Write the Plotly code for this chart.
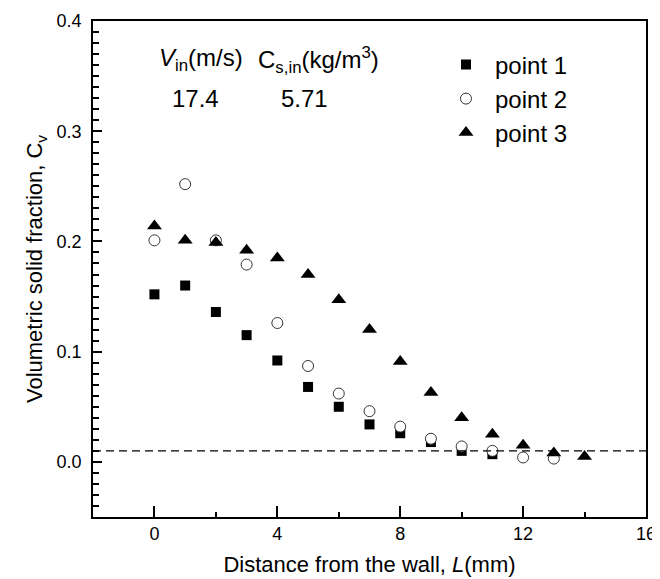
import plotly.graph_objects as go

# ---- data ----
x1 = [0, 1, 2, 3, 4, 5, 6, 7, 8, 9, 10, 11]
y1 = [0.152, 0.160, 0.136, 0.115, 0.092, 0.068, 0.050, 0.034, 0.026, 0.018, 0.010, 0.007]

x2 = [0, 1, 2, 3, 4, 5, 6, 7, 8, 9, 10, 11, 12, 13]
y2 = [0.201, 0.252, 0.201, 0.179, 0.126, 0.087, 0.062, 0.046, 0.032, 0.021, 0.014, 0.010, 0.004, 0.003]

x3 = [0, 1, 2, 3, 4, 5, 6, 7, 8, 9, 10, 11, 12, 13, 14]
y3 = [0.214, 0.201, 0.199, 0.192, 0.185, 0.170, 0.147, 0.120, 0.091, 0.063, 0.040, 0.025, 0.015, 0.008, 0.005]

threshold = 0.01
series_names = ["point 1", "point 2", "point 3"]
x_ticks = [0, 4, 8, 12, 16]
y_ticks = [0.0, 0.1, 0.2, 0.3, 0.4]

FONT = "Liberation Sans, Arial, sans-serif"

# screen-pixel plot box (page has an 8px body margin)
PL, PR, PT, PB = 93, 646, 21, 517
OFF = 8


def px(xs):
    return (xs - PL) / (PR - PL)


def py(ys):
    return (PB - ys) / (PB - PT)


fig = go.Figure()

fig.add_hline(y=threshold, line=dict(color="black", width=1.3, dash="8px,5px"))

fig.add_trace(go.Scatter(x=x1, y=y1, mode="markers", name=series_names[0],
                         marker=dict(symbol="square", size=10, color="black"),
                         legend="legend", showlegend=True))
fig.add_trace(go.Scatter(x=x2, y=y2, mode="markers", name=series_names[1],
                         marker=dict(symbol="circle", size=11, color="white",
                                     line=dict(color="#333333", width=1)),
                         legend="legend2", showlegend=True))
fig.add_trace(go.Scatter(x=x3, y=y3, mode="markers", name=series_names[2],
                         marker=dict(symbol="triangle-up", size=13, color="black"),
                         legend="legend3", showlegend=True))

leg_common = dict(xanchor="left", yanchor="middle", bgcolor="rgba(0,0,0,0)",
                  itemwidth=48,
                  font=dict(family=FONT, size=24, color="black"))

fig.update_layout(
    width=660, height=579,
    margin=dict(l=PL - OFF, r=660 - PR + OFF, t=PT - OFF, b=579 - PB + OFF),
    plot_bgcolor="white", paper_bgcolor="white",
    font=dict(family=FONT, color="black"),
    showlegend=True,
    legend=dict(x=px(437), y=py(65), **leg_common),
    legend2=dict(x=px(437), y=py(99), **leg_common),
    legend3=dict(x=px(437), y=py(133), **leg_common),
    xaxis=dict(
        range=[-2, 16], tickvals=x_ticks, ticks="inside", ticklen=11, tickwidth=1.5,
        tickcolor="black", showline=True, linecolor="black", linewidth=1.5, mirror=True,
        showgrid=False, zeroline=False, automargin=False,
        tickfont=dict(family=FONT, size=18),
        minor=dict(dtick=2, tick0=0, ticks="inside", ticklen=5, tickwidth=1.5, tickcolor="black"),
        title=dict(text="Distance from the wall, <i>L</i>(mm)", font=dict(family=FONT, size=22),
                   standoff=13),
    ),
    yaxis=dict(
        range=[-0.05, 0.4], tickvals=y_ticks, tickformat=".1f", ticks="inside", ticklen=9,
        tickwidth=1.5, tickcolor="black", showline=True, linecolor="black", linewidth=1.5,
        mirror=True, showgrid=False, zeroline=False, automargin=False,
        ticklabelstandoff=6,
        tickfont=dict(family=FONT, size=18),
        minor=dict(dtick=0.01, tick0=0, ticks="inside", ticklen=6, tickwidth=1.5, tickcolor="black"),
        title=dict(text="Volumetric solid fraction, C<sub>v</sub>", font=dict(family=FONT, size=22),
                   standoff=8),
    ),
)

ann_font = dict(family=FONT, size=24, color="black")
ann_common = dict(xref="paper", yref="paper", showarrow=False, font=ann_font,
                  xanchor="center", yanchor="middle")
fig.add_annotation(x=px(201), y=py(60), text="<i>V</i><sub>in</sub>(m/s)", **ann_common)
fig.add_annotation(x=px(318), y=py(60), text="C<sub>s,in</sub>(kg/m<sup>3</sup>)", **ann_common)
fig.add_annotation(x=px(195), y=py(99), text="17.4", **ann_common)
fig.add_annotation(x=px(304), y=py(99), text="5.71", **ann_common)

fig.write_html("out.html")
